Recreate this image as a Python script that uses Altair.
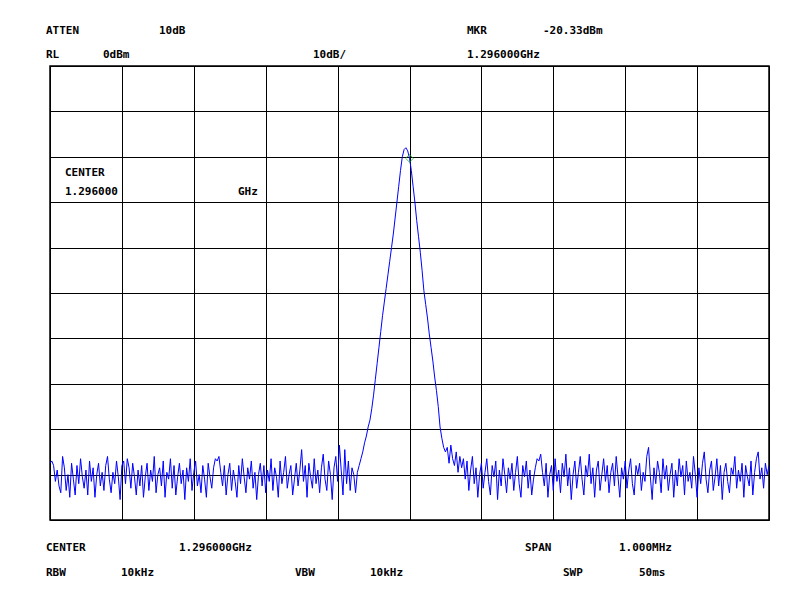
import altair as alt
import numpy as np
import pandas as pd

# Frequency offsets from centre (kHz); trace in dBm
noise_left = [
    -87.5, -87.0, -88.0, -91.5, -89.0, -92.5, -94.0, -86.0, -88.5, -93.5,
    -90.0, -95.0, -87.5, -91.0, -94.5, -88.0, -92.0, -86.5, -90.5, -93.0,
    -89.0, -94.5, -87.0, -91.5, -88.5, -95.0, -90.0, -87.5, -92.5, -89.5,
    -93.5, -88.0, -86.0, -91.0, -94.0, -89.5, -92.0, -87.0, -90.5, -95.5,
    -88.0, -87.0, -92.0, -86.5, -88.5, -93.0, -87.5, -90.5, -94.5, -89.0,
    -92.5, -88.0, -95.0, -90.5, -87.5, -93.5, -89.0, -91.5, -86.0, -94.0,
    -90.0, -88.5, -92.5, -87.0, -95.0, -89.5, -91.0, -86.5, -93.0, -88.0,
    -94.5, -90.5, -87.5, -92.0, -89.0, -95.5, -88.5, -91.5, -86.5, -93.5,
    -89.5, -87.0, -92.5, -90.0, -94.0, -88.0, -91.0, -95.0, -87.5, -90.5,
    -93.0, -88.5, -86.5, -87.0, -86.0, -89.5, -92.5, -88.0, -94.5, -90.0,
    -87.5, -93.5, -89.0, -91.5, -95.0, -88.0, -92.0, -86.5, -90.5, -94.0,
    -88.5, -91.0, -87.0, -93.0, -89.5, -95.5, -90.0, -87.5, -92.5, -88.0,
    -94.0, -89.0, -91.5, -86.5, -93.5, -88.5, -90.5, -95.0, -87.0, -92.0,
    -89.5, -86.0, -93.0, -90.0, -88.0, -94.5, -91.0, -87.5, -92.5, -89.0,
    -84.5, -91.5, -88.0, -95.0, -87.5, -90.5, -93.0, -86.5, -92.0, -89.0,
    -94.0, -88.5, -85.5, -91.0, -93.5, -87.0, -90.0, -95.5, -88.5, -86.0,
    -91.5, -83.5, -89.0, -94.5, -84.5, -92.0, -87.0, -93.5, -88.5, -90.0,
    -94.0, -89.5, -88.0,
]
signal = [
    -86.5, -85.0, -83.0, -81.5, -79.5, -78.0, -75.5, -72.5, -69.0, -65.5,
    -62.0, -58.5, -55.0, -52.0, -49.0, -46.0, -43.0, -40.0, -37.0, -33.5,
    -30.0, -26.5, -23.0, -20.0, -18.4, -18.0, -18.7, -20.3, -23.0, -26.5,
    -30.0, -34.0, -37.5, -41.0, -45.0, -49.5, -52.5, -55.5, -59.0, -62.0,
    -65.0, -68.5, -71.5, -75.0, -79.5, -82.0, -84.0, -85.0,
]
noise_right = [
    -84.0, -87.5, -83.5, -86.5, -88.0, -85.0, -89.5, -86.0,
    -88.5, -86.5, -91.0, -87.0, -93.5, -89.0, -86.0, -92.0, -88.5, -95.0,
    -90.0, -87.5, -93.0, -89.5, -86.5, -91.5, -94.5, -88.0, -90.5, -87.0,
    -95.5, -89.0, -92.5, -86.5, -90.0, -94.0, -88.5, -91.0, -87.5, -93.5,
    -89.5, -86.0, -92.0, -95.0, -88.0, -90.5, -87.0, -93.0, -89.0, -94.5,
    -91.0, -88.5, -86.5, -87.0, -85.5, -89.5, -92.5, -87.5, -95.0, -90.0,
    -88.0, -93.5, -86.5, -91.5, -89.0, -94.0, -87.5, -90.5, -85.5, -92.5,
    -88.5, -95.5, -90.0, -87.0, -93.0, -89.5, -86.0, -91.0, -94.5, -88.0,
    -90.5, -85.5, -92.0, -88.5, -95.0, -89.0, -87.0, -93.5, -90.0, -86.5,
    -91.5, -88.0, -94.0, -89.5, -87.5, -92.5, -86.0, -90.5, -95.0, -88.5,
    -91.0, -87.0, -93.0, -89.0, -86.5, -92.0, -94.5, -88.0, -90.0, -87.5,
    -93.5, -89.5, -91.5, -86.0, -84.0, -90.5, -95.5, -88.5, -92.0, -87.0,
    -89.5, -94.0, -86.5, -91.0, -88.0, -93.5, -90.0, -87.5, -95.0, -89.0,
    -92.5, -86.5, -90.5, -88.0, -94.5, -87.0, -91.5, -89.5, -93.0, -86.0,
    -90.0, -95.0, -88.5, -92.0, -87.5, -85.0, -91.0, -94.0, -89.0, -87.0,
    -93.5, -90.5, -86.5, -92.5, -88.0, -95.5, -89.5, -87.5, -91.5, -94.0,
    -88.5, -90.0, -86.0, -93.0, -89.0, -91.5, -87.5, -95.0, -88.0, -90.5,
    -92.5, -87.0, -94.5, -89.5, -86.5, -85.0, -91.0, -88.5, -93.0, -87.5,
    -90.0, -88.0,
]
span_khz = [-500, 500]
marker_freq = [0.0]
marker_level = [-20.33]

levels = noise_left + signal + noise_right
freqs = np.linspace(span_khz[0], span_khz[1], len(levels))
trace = pd.DataFrame({"f": freqs, "dbm": levels})
mkr = pd.DataFrame({"f": marker_freq, "dbm": marker_level})

W, H = 719, 454
FONT = "DejaVu Sans Mono"

xs = alt.Scale(domain=span_khz, nice=False, zero=False)
ys = alt.Scale(domain=[-100, 0], nice=False, zero=False)
xaxis = alt.Axis(values=list(range(-500, 501, 100)), labels=False, ticks=False,
                 domain=False, title=None, grid=True, gridColor="black",
                 gridOpacity=1, gridWidth=1)
yaxis = alt.Axis(values=list(range(-100, 1, 10)), labels=False, ticks=False,
                 domain=False, title=None, grid=True, gridColor="black",
                 gridOpacity=1, gridWidth=1)

line = alt.Chart(trace).mark_line(color="#0000ff", strokeWidth=1, clip=True).encode(
    x=alt.X("f:Q", scale=xs, axis=xaxis),
    y=alt.Y("dbm:Q", scale=ys, axis=yaxis),
)
marker = alt.Chart(mkr).mark_point(shape="diamond", color="#00b000", size=60,
                                   strokeWidth=1, filled=False).encode(
    x=alt.X("f:Q", scale=xs),
    y=alt.Y("dbm:Q", scale=ys),
)

# annotation texts: (text, x px, y px) relative to plot origin
labels = [
    ("ATTEN", -4, -35), ("10dB", 109, -35), ("MKR", 417, -35), ("-20.33dBm", 493, -35),
    ("RL", -4, -11), ("0dBm", 53, -11), ("10dB/", 263, -11), ("1.296000GHz", 417, -11),
    ("CENTER", 15, 107), ("1.296000", 15, 126), ("GHz", 188, 126),
    ("CENTER", -4, 482), ("1.296000GHz", 129, 482), ("SPAN", 475, 482), ("1.000MHz", 569, 482),
    ("RBW", -4, 507), ("10kHz", 71, 507), ("VBW", 245, 507), ("10kHz", 320, 507),
    ("SWP", 513, 507), ("50ms", 589, 507),
]
text_layers = []
for t, px, py in labels:
    text_layers.append(
        alt.Chart(pd.DataFrame({"t": [t]})).mark_text(
            align="left", baseline="middle", font=FONT, fontSize=11,
            fontWeight="bold", color="black", clip=False
        ).encode(text="t:N", x=alt.value(px), y=alt.value(py))
    )

chart = alt.layer(line, marker, *text_layers).properties(
    width=W, height=H,
    autosize=alt.AutoSizeParams(type="none"),
    padding={"left": 42, "top": 58, "right": 23, "bottom": 72},
    background="white",
).configure_view(stroke="black", strokeWidth=1.5)

chart.save("out.html", embed_options={"renderer": "svg", "actions": False})
